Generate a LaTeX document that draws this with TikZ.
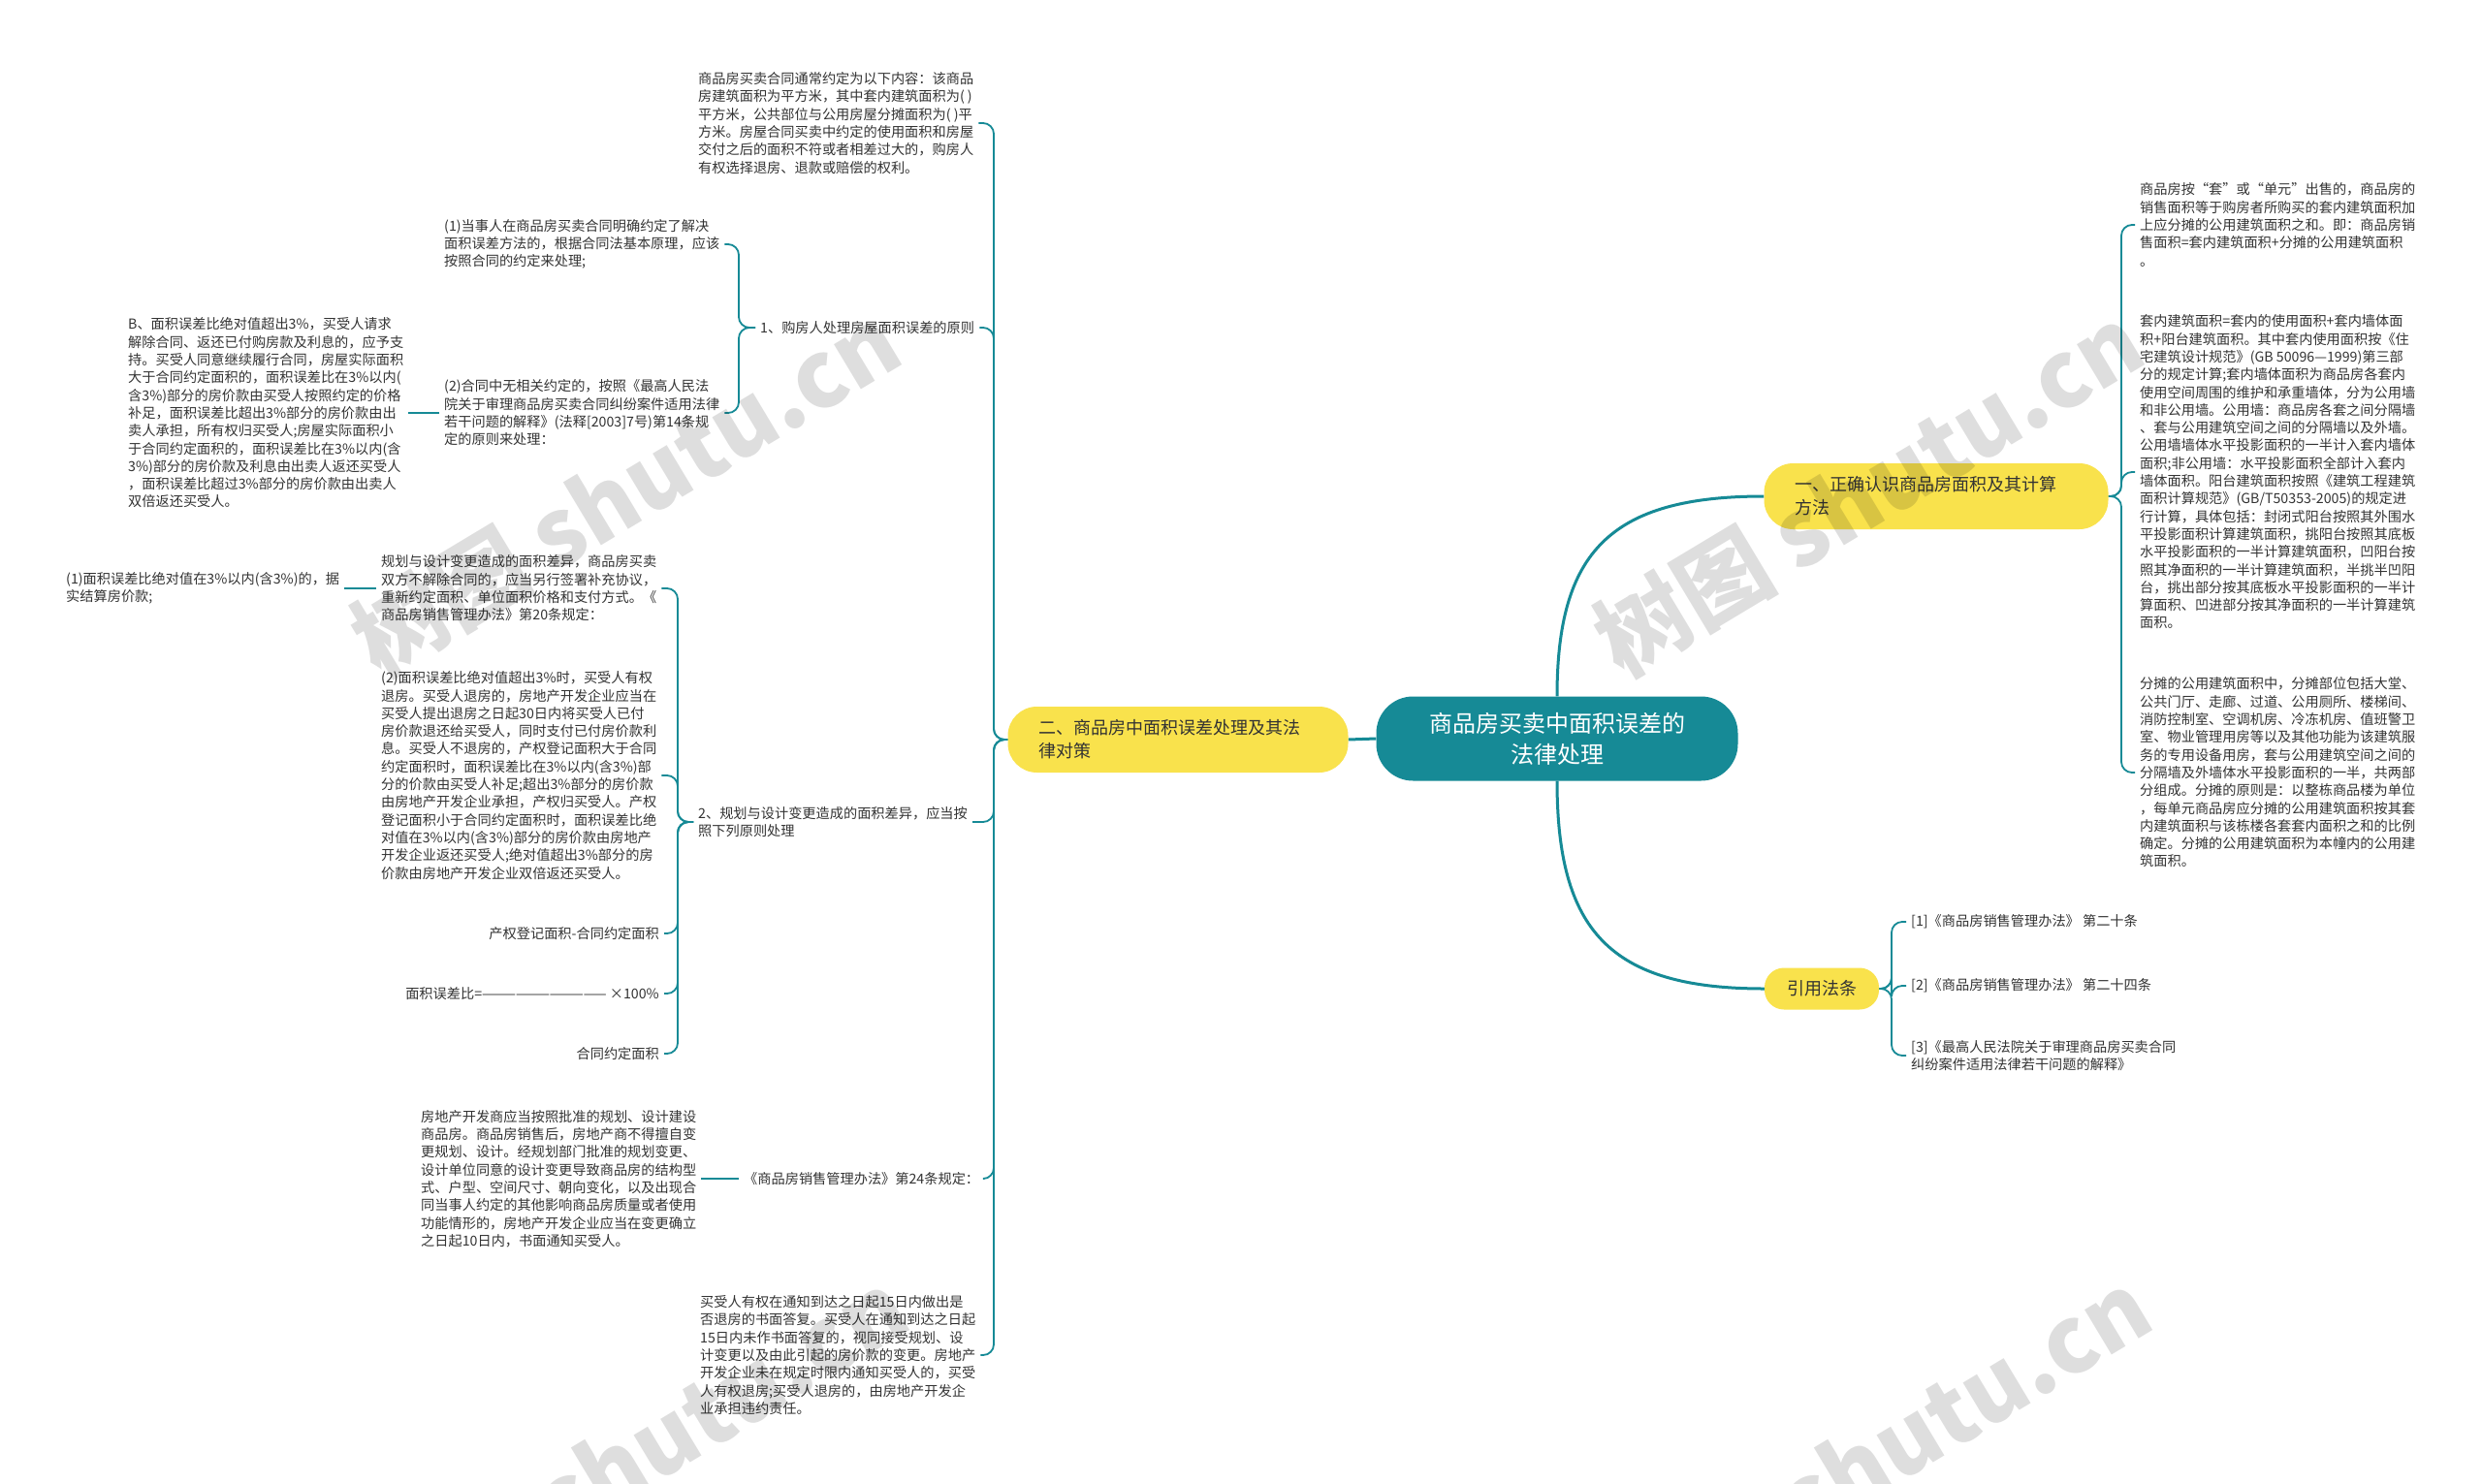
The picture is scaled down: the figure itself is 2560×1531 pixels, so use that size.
\documentclass[tikz,border=0pt]{standalone}
\usepackage{fontspec}
\setmainfont{Noto Sans CJK SC}
\definecolor{tealc}{HTML}{168A96}
\definecolor{yelc}{HTML}{F9E24C}
\definecolor{txtc}{HTML}{333333}
\pgfdeclarelayer{bg}
\pgfdeclarelayer{wm}
\pgfsetlayers{bg,main,wm}
\begin{document}
\begin{tikzpicture}[x=1pt,y=-1pt,
  txt/.style={font=\fontsize{14.2}{18.3}\selectfont,text=txtc,align=left,inner xsep=5pt,inner ysep=2pt},
  ln/.style={draw=tealc,line width=1.8pt,rounded corners=11pt},
  mainln/.style={draw=tealc,line width=3pt},
  ybox/.style={fill=yelc,rounded corners=30pt,font=\fontsize{18}{24}\selectfont,text=txtc,align=left,inner xsep=32pt,minimum height=68pt},
  wmk/.style={rotate=31,font=\fontsize{95}{95}\selectfont\bfseries,text=black,text opacity=0.13}
]
\useasboundingbox (0,0) rectangle (2560,1531);

% central and branch nodes
\node[fill=tealc,rounded corners=38pt,minimum width=373pt,minimum height=87pt,text=white,font=\fontsize{24}{32}\selectfont,align=center] (C) at (1606,762) {商品房买卖中面积误差的\\法律处理};
\node[ybox,minimum width=351pt,text width=287pt] (L) at (1215,763) {二、商品房中面积误差处理及其法\\律对策};
\node[ybox,minimum width=355pt,text width=291pt] (R) at (1997,512) {一、正确认识商品房面积及其计算\\方法};
\node[fill=yelc,rounded corners=20pt,minimum width=118pt,minimum height=43pt,font=\fontsize{18}{24}\selectfont,text=txtc] (Q) at (1879,1020) {引用法条};

% left branch children
\node[txt,anchor=west] (T1) at (715,127) {商品房买卖合同通常约定为以下内容：该商品\\房建筑面积为平方米，其中套内建筑面积为( )\\平方米，公共部位与公用房屋分摊面积为( )平\\方米。房屋合同买卖中约定的使用面积和房屋\\交付之后的面积不符或者相差过大的，购房人\\有权选择退房、退款或赔偿的权利。};
\node[txt,anchor=west] (A1) at (779,338) {1、购房人处理房屋面积误差的原则};
\node[txt,anchor=west] (B1) at (453,252) {(1)当事人在商品房买卖合同明确约定了解决\\面积误差方法的，根据合同法基本原理，应该\\按照合同的约定来处理;};
\node[txt,anchor=west] (B2) at (453,426) {(2)合同中无相关约定的，按照《最高人民法\\院关于审理商品房买卖合同纠纷案件适用法律\\若干问题的解释》(法释[2003]7号)第14条规\\定的原则来处理：};
\node[txt,anchor=west] (C1) at (127,426) {B、面积误差比绝对值超出3\%，买受人请求\\解除合同、返还已付购房款及利息的，应予支\\持。买受人同意继续履行合同，房屋实际面积\\大于合同约定面积的，面积误差比在3\%以内(\\含3\%)部分的房价款由买受人按照约定的价格\\补足，面积误差比超出3\%部分的房价款由出\\卖人承担，所有权归买受人;房屋实际面积小\\于合同约定面积的，面积误差比在3\%以内(含\\3\%)部分的房价款及利息由出卖人返还买受人\\，面积误差比超过3\%部分的房价款由出卖人\\双倍返还买受人。};
\node[txt,anchor=west] (A2) at (715,848) {2、规划与设计变更造成的面积差异，应当按\\照下列原则处理};
\node[txt,anchor=west] (D1) at (388,607) {规划与设计变更造成的面积差异，商品房买卖\\双方不解除合同的，应当另行签署补充协议，\\重新约定面积、单位面积价格和支付方式。《\\商品房销售管理办法》第20条规定：};
\node[txt,anchor=west] (D1a) at (63,607) {(1)面积误差比绝对值在3\%以内(含3\%)的，据\\实结算房价款;};
\node[txt,anchor=west] (D2) at (388,800) {(2)面积误差比绝对值超出3\%时，买受人有权\\退房。买受人退房的，房地产开发企业应当在\\买受人提出退房之日起30日内将买受人已付\\房价款退还给买受人，同时支付已付房价款利\\息。买受人不退房的，产权登记面积大于合同\\约定面积时，面积误差比在3\%以内(含3\%)部\\分的价款由买受人补足;超出3\%部分的房价款\\由房地产开发企业承担，产权归买受人。产权\\登记面积小于合同约定面积时，面积误差比绝\\对值在3\%以内(含3\%)部分的房价款由房地产\\开发企业返还买受人;绝对值超出3\%部分的房\\价款由房地产开发企业双倍返还买受人。};
\node[txt,anchor=east] (D3) at (685,963) {产权登记面积-合同约定面积};
\node[txt,anchor=east] (D4) at (685,1025) {面积误差比=——————————— ×100\%};
\node[txt,anchor=east] (D5) at (685,1087) {合同约定面积};
\node[txt,anchor=west] (A3) at (762,1216) {《商品房销售管理办法》第24条规定：};
\node[txt,anchor=west] (E1) at (429,1216) {房地产开发商应当按照批准的规划、设计建设\\商品房。商品房销售后，房地产商不得擅自变\\更规划、设计。经规划部门批准的规划变更、\\设计单位同意的设计变更导致商品房的结构型\\式、户型、空间尺寸、朝向变化，以及出现合\\同当事人约定的其他影响商品房质量或者使用\\功能情形的，房地产开发企业应当在变更确立\\之日起10日内，书面通知买受人。};
\node[txt,anchor=west] (A4) at (717,1398) {买受人有权在通知到达之日起15日内做出是\\否退房的书面答复。买受人在通知到达之日起\\15日内未作书面答复的，视同接受规划、设\\计变更以及由此引起的房价款的变更。房地产\\开发企业未在规定时限内通知买受人的，买受\\人有权退房;买受人退房的，由房地产开发企\\业承担违约责任。};

% right branch children
\node[txt,anchor=west] (R1) at (2202,232) {商品房按“套”或“单元”出售的，商品房的\\销售面积等于购房者所购买的套内建筑面积加\\上应分摊的公用建筑面积之和。即：商品房销\\售面积=套内建筑面积+分摊的公用建筑面积\\。};
\node[txt,anchor=west] (R2) at (2202,487) {套内建筑面积=套内的使用面积+套内墙体面\\积+阳台建筑面积。其中套内使用面积按《住\\宅建筑设计规范》(GB 50096—1999)第三部\\分的规定计算;套内墙体面积为商品房各套内\\使用空间周围的维护和承重墙体，分为公用墙\\和非公用墙。公用墙：商品房各套之间分隔墙\\、套与公用建筑空间之间的分隔墙以及外墙。\\公用墙墙体水平投影面积的一半计入套内墙体\\面积;非公用墙：水平投影面积全部计入套内\\墙体面积。阳台建筑面积按照《建筑工程建筑\\面积计算规范》(GB/T50353-2005)的规定进\\行计算，具体包括：封闭式阳台按照其外围水\\平投影面积计算建筑面积，挑阳台按照其底板\\水平投影面积的一半计算建筑面积，凹阳台按\\照其净面积的一半计算建筑面积，半挑半凹阳\\台，挑出部分按其底板水平投影面积的一半计\\算面积、凹进部分按其净面积的一半计算建筑\\面积。};
\node[txt,anchor=west] (R3) at (2202,797) {分摊的公用建筑面积中，分摊部位包括大堂、\\公共门厅、走廊、过道、公用厕所、楼梯间、\\消防控制室、空调机房、冷冻机房、值班警卫\\室、物业管理用房等以及其他功能为该建筑服\\务的专用设备用房，套与公用建筑空间之间的\\分隔墙及外墙体水平投影面积的一半，共两部\\分组成。分摊的原则是：以整栋商品楼为单位\\，每单元商品房应分摊的公用建筑面积按其套\\内建筑面积与该栋楼各套套内面积之和的比例\\确定。分摊的公用建筑面积为本幢内的公用建\\筑面积。};
\node[txt,anchor=west] (F1) at (1966,951) {[1]《商品房销售管理办法》 第二十条};
\node[txt,anchor=west] (F2) at (1966,1017) {[2]《商品房销售管理办法》 第二十四条};
\node[txt,anchor=west] (F3) at (1966,1089) {[3]《最高人民法院关于审理商品房买卖合同\\纠纷案件适用法律若干问题的解释》};

\begin{pgfonlayer}{bg}
  \fill[white] (0,0) rectangle (2560,1531);
  \draw[mainln] (C.west) -- (L.east);
  \draw[mainln] (C.north) .. controls (1606,570) and (1660,512) .. (R.west);
  \draw[mainln] (C.south) .. controls (1606,960) and (1660,1020) .. (Q.west);
  % left spine
  \foreach \n in {T1,A1,A2,A3,A4} {\draw[ln] (L.west) -- (1025,763) |- (\n.east);}
  \foreach \n in {B1,B2} {\draw[ln] (A1.west) -- (762,338) |- (\n.east);}
  \draw[ln] (B2.west) -- (C1.east);
  \foreach \n in {D1,D2,D3,D4,D5} {\draw[ln] (A2.west) -- (699,848) |- (\n.east);}
  \draw[ln] (D1.west) -- (D1a.east);
  \draw[ln] (A3.west) -- (E1.east);
  % right spine
  \foreach \n in {R1,R2,R3} {\draw[ln] (R.east) -- (2188,512) |- (\n.west);}
  \foreach \n in {F1,F2,F3} {\draw[ln] (Q.east) -- (1951,1020) |- (\n.west);}
\end{pgfonlayer}

\begin{pgfonlayer}{wm}
  \node[wmk] (wm1) at (645,506) {树图 shutu.cn};
  \node[wmk] (wm2) at (1927,506) {树图 shutu.cn};
  \node[wmk] (wm3) at (653,1502) {树图 shutu.cn};
  \node[wmk] (wm4) at (1935,1502) {树图 shutu.cn};
\end{pgfonlayer}
\end{tikzpicture}
\end{document}
